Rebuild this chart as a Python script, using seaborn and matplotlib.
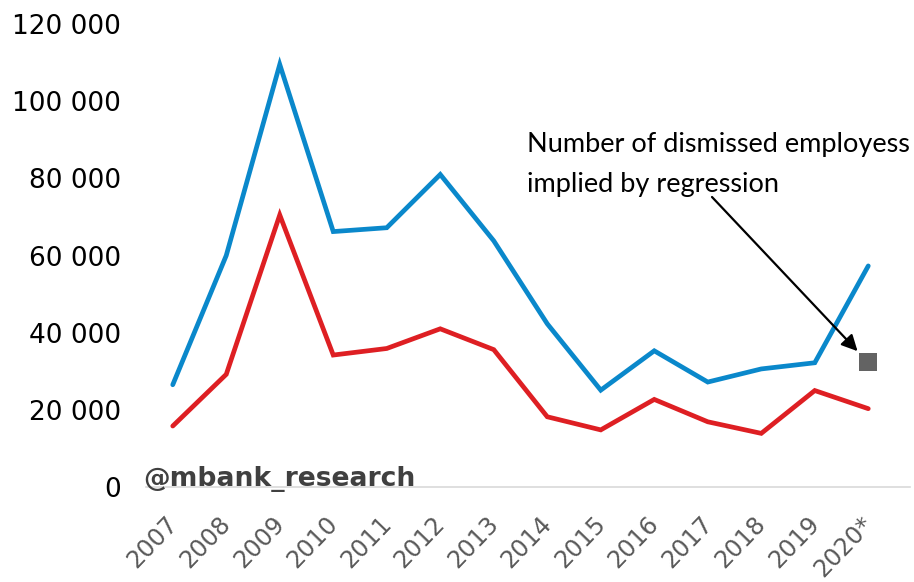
import matplotlib
matplotlib.use("Agg")
import matplotlib.pyplot as plt
import matplotlib.transforms as mtransforms
import seaborn as sns
import pandas as pd
from matplotlib.ticker import FuncFormatter

years = ["2007", "2008", "2009", "2010", "2011", "2012", "2013",
         "2014", "2015", "2016", "2017", "2018", "2019", "2020*"]
blue_series = [26500, 60000, 109500, 66200, 67200, 81000, 63800,
               42300, 25100, 35300, 27200, 30600, 32200, 57300]
red_series = [15800, 29200, 70500, 34200, 35900, 41000, 35600,
              18200, 14800, 22700, 16900, 13900, 25000, 20300]
regression_2020 = 32300

BLUE = "#0A88CB"
RED = "#DE1F23"
W, H = 914, 582

sns.set_style("white")
plt.rcParams["font.family"] = ["DejaVu Sans"]

df = pd.DataFrame({"pos": range(len(years)), "blue": blue_series, "red": red_series})

fig = plt.figure(figsize=(W / 100, H / 100), dpi=100)
ax = fig.add_axes([146 / W, 1 - 487 / H, (910 - 146) / W, (487 - 24) / H])

sns.lineplot(data=df, x="pos", y="blue", color=BLUE, lw=3.4, ax=ax,
             solid_capstyle="round", solid_joinstyle="miter")
sns.lineplot(data=df, x="pos", y="red", color=RED, lw=3.4, ax=ax,
             solid_capstyle="round", solid_joinstyle="miter")
sns.scatterplot(x=[len(years) - 1], y=[regression_2020], marker="s", s=150,
                color="#636363", edgecolor="#636363", linewidth=0, ax=ax, zorder=5)

ax.set_xlim(-0.5, 13.78)
ax.set_ylim(0, 120000)
ax.set_yticks(range(0, 120001, 20000))
ax.yaxis.set_major_formatter(FuncFormatter(lambda v, _: f"{int(v):,}".replace(",", " ")))
ax.set_xticks(range(len(years)))
ax.set_xticklabels(years, rotation=46, ha="right", va="top", rotation_mode="anchor")
ax.tick_params(axis="y", labelsize=19, labelcolor="black", length=0, pad=18)
ax.tick_params(axis="x", labelsize=17.3, labelcolor="#595959", length=0, pad=10)
shift = mtransforms.ScaledTranslation(-8 / 100, -11 / 100, fig.dpi_scale_trans)
for lab in ax.get_xticklabels():
    lab.set_transform(lab.get_transform() + shift)
ax.set_xlabel("")
ax.set_ylabel("")

for side in ["top", "right", "left"]:
    ax.spines[side].set_visible(False)
ax.spines["bottom"].set_color("#D9D9D9")
ax.spines["bottom"].set_linewidth(1.2)

# note on the regression point, two lines with fixed baselines
note_font = dict(fontsize=19.5, family=["Lato", "DejaVu Sans"], color="black",
                 ha="left", va="baseline")
fig.text(527 / W, 1 - 152 / H, "Number of dismissed employess", **note_font)
fig.text(527 / W, 1 - 192 / H, "implied by regression", **note_font)
ax.annotate("", xy=(12.8, 35200), xycoords="data",
            xytext=(712 / W, 1 - 197 / H), textcoords="figure fraction",
            arrowprops=dict(arrowstyle="-|>", color="black", lw=1.6,
                            mutation_scale=24, shrinkA=0, shrinkB=0))

fig.text(143 / W, 1 - 486 / H, "@mbank_research", fontsize=19.2,
         fontweight="bold", color="#404040", ha="left", va="baseline")

fig.savefig("out.png", dpi=100)
